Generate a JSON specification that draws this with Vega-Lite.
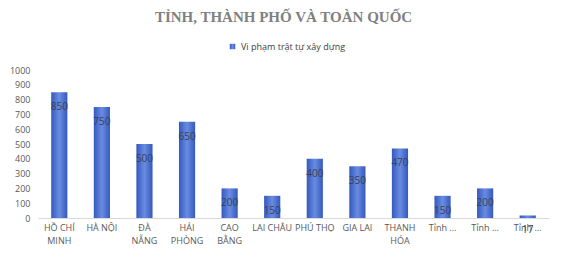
{
  "$schema": "https://vega.github.io/schema/vega-lite/v6.json",
  "autosize": "none",
  "width": 511,
  "height": 148,
  "padding": {"left": 38, "top": 70, "right": 19, "bottom": 41},
  "background": "white",
  "config": {"view": {"stroke": null}},
  "title": {
    "text": "TỈNH, THÀNH PHỐ VÀ TOÀN QUỐC",
    "font": "Liberation Serif",
    "fontSize": 15,
    "fontWeight": "bold",
    "color": "#808080",
    "anchor": "middle",
    "dx": -10,
    "offset": 17
  },
  "data": {
    "values": [
      {"tinh": "HỒ CHÍ|MINH", "so_vu": 850, "loai": "Vi phạm trật tự xây dựng"},
      {"tinh": "HÀ NỘI", "so_vu": 750, "loai": "Vi phạm trật tự xây dựng"},
      {"tinh": "ĐÀ|NẴNG", "so_vu": 500, "loai": "Vi phạm trật tự xây dựng"},
      {"tinh": "HẢI|PHÒNG", "so_vu": 650, "loai": "Vi phạm trật tự xây dựng"},
      {"tinh": "CAO|BẰNG", "so_vu": 200, "loai": "Vi phạm trật tự xây dựng"},
      {"tinh": "LAI CHÂU", "so_vu": 150, "loai": "Vi phạm trật tự xây dựng"},
      {"tinh": "PHÚ THỌ", "so_vu": 400, "loai": "Vi phạm trật tự xây dựng"},
      {"tinh": "GIA LAI", "so_vu": 350, "loai": "Vi phạm trật tự xây dựng"},
      {"tinh": "THANH|HÓA", "so_vu": 470, "loai": "Vi phạm trật tự xây dựng"},
      {"tinh": "Tỉnh ...#1", "so_vu": 150, "loai": "Vi phạm trật tự xây dựng"},
      {"tinh": "Tỉnh ...#2", "so_vu": 200, "loai": "Vi phạm trật tự xây dựng"},
      {"tinh": "Tỉnh ...#3", "so_vu": 17, "loai": "Vi phạm trật tự xây dựng"}
    ]
  },
  "encoding": {
    "x": {
      "field": "tinh",
      "type": "nominal",
      "sort": null,
      "scale": {"paddingInner": 0.62, "paddingOuter": 0.31},
      "axis": {
        "title": null,
        "labelAngle": 0,
        "labelExpr": "split(split(datum.label, '#')[0], '|')",
        "labelFont": "Open Sans",
        "labelFontSize": 9,
        "labelColor": "#595959",
        "labelLineHeight": 13,
        "labelPadding": 5,
        "ticks": false,
        "domainColor": "#d9d9d9",
        "domainWidth": 1
      }
    },
    "y": {
      "field": "so_vu",
      "type": "quantitative",
      "scale": {"domain": [0, 1000]},
      "axis": {
        "title": null,
        "format": "d",
        "values": [0, 100, 200, 300, 400, 500, 600, 700, 800, 900, 1000],
        "labelFont": "Open Sans",
        "labelFontSize": 9,
        "labelColor": "#595959",
        "labelPadding": 8,
        "ticks": false,
        "domain": false,
        "grid": false
      }
    }
  },
  "layer": [
    {
      "mark": {
        "type": "bar",
        "fill": {
          "gradient": "linear",
          "x1": 0, "y1": 0, "x2": 1, "y2": 0,
          "stops": [
            {"offset": 0, "color": "#3459c0"},
            {"offset": 0.5, "color": "#6a8ce0"},
            {"offset": 1, "color": "#3459c0"}
          ]
        }
      },
      "encoding": {
        "opacity": {
          "field": "loai",
          "type": "nominal",
          "scale": {"range": [1]},
          "legend": {
            "title": null,
            "orient": "none",
            "legendX": 190,
            "legendY": -28,
            "symbolType": "square",
            "symbolSize": 30,
            "symbolFillColor": "#6f8fd8",
            "symbolStrokeColor": "#6f8fd8",
            "symbolStrokeWidth": 0,
            "labelFont": "Open Sans",
            "labelFontSize": 9,
            "labelColor": "#404040"
          }
        }
      }
    },
    {
      "mark": {
        "type": "text",
        "dy": 15,
        "baseline": "middle",
        "font": "Open Sans",
        "fontSize": 10,
        "color": "#3a3f55"
      },
      "encoding": {
        "text": {"field": "so_vu", "type": "quantitative"}
      }
    }
  ]
}
